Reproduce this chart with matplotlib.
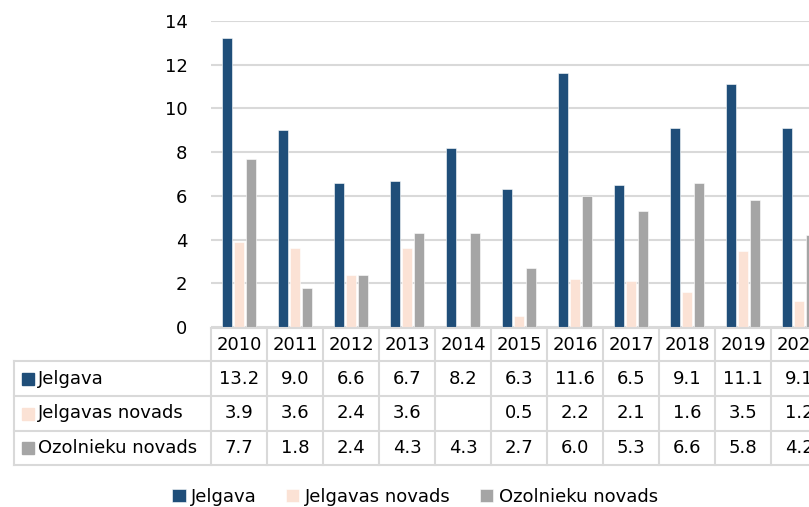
import numpy as np
import matplotlib.pyplot as plt
import matplotlib.transforms as mtransforms

# dati
years = ['2010', '2011', '2012', '2013', '2014', '2015', '2016', '2017', '2018', '2019', '2020']
jelgava = [13.2, 9.0, 6.6, 6.7, 8.2, 6.3, 11.6, 6.5, 9.1, 11.1, 9.1]
jelgavas_novads = [3.9, 3.6, 2.4, 3.6, np.nan, 0.5, 2.2, 2.1, 1.6, 3.5, 1.2]
ozolnieku_novads = [7.7, 1.8, 2.4, 4.3, 4.3, 2.7, 6.0, 5.3, 6.6, 5.8, 4.2]

series_names = ['Jelgava', 'Jelgavas novads', 'Ozolnieku novads']
series_values = [jelgava, jelgavas_novads, ozolnieku_novads]
colors = ['#1F4E79', '#FBE2D5', '#A5A5A5']

plt.rcParams['font.family'] = 'DejaVu Sans'
W, H = 809, 507
fig = plt.figure(figsize=(W / 100, H / 100), dpi=100)

def fx(px):
    return px / W

def fy(py):
    return 1 - py / H

# axes runs past the right edge, as in the cropped reference
ax_left, ax_right, ax_top, ax_bot = 211, 827, 21, 327
ax = fig.add_axes([fx(ax_left), fy(ax_bot), fx(ax_right - ax_left), (ax_bot - ax_top) / H])

x = np.arange(len(years))
offsets = [-0.22, 0, 0.22]
for name, vals, off, c in zip(series_names, series_values, offsets, colors):
    ax.bar(x + off, vals, width=0.18, color=c, edgecolor='white', linewidth=0.4,
           label=name, zorder=3)

ax.set_xlim(-0.5, len(years) - 0.5)
ax.set_ylim(0, 14)
ax.set_yticks(range(0, 15, 2))
ax.yaxis.grid(True, color='#D9D9D9', linewidth=1.5, zorder=0)
ax.set_xticks([])
for s in ax.spines.values():
    s.set_visible(False)
ax.tick_params(axis='y', length=0, pad=17, labelsize=13)

# datu tabula
grid_c = '#D9D9D9'
lw = 1.5
trans = mtransforms.blended_transform_factory(ax.transData, fig.transFigure)
row_y = [328, 361, 396, 431, 465]
tab_left = 14

# horizontal lines
fig.add_artist(plt.Line2D([fx(ax_left), fx(ax_right)], [fy(row_y[0])] * 2, color=grid_c, lw=lw))
for yy in row_y[1:]:
    fig.add_artist(plt.Line2D([fx(tab_left), fx(ax_right)], [fy(yy)] * 2, color=grid_c, lw=lw))
# vertical lines
fig.add_artist(plt.Line2D([fx(tab_left)] * 2, [fy(row_y[1]), fy(row_y[-1])], color=grid_c, lw=lw))
for i in range(len(years) + 1):
    xv = i - 0.5
    fig.add_artist(plt.Line2D([xv, xv], [fy(row_y[0]), fy(row_y[-1])], color=grid_c, lw=lw,
                              transform=trans))

for i, yr in enumerate(years):
    fig.text(i, fy((row_y[0] + row_y[1]) / 2), yr, transform=trans, ha='center', va='center',
             fontsize=13, clip_on=False)

for r, (name, vals, c) in enumerate(zip(series_names, series_values, colors)):
    yc = fy((row_y[r + 1] + row_y[r + 2]) / 2)
    fig.add_artist(plt.Rectangle((fx(22), yc - 6 / H), 12 / W, 12 / H, color=c,
                                 transform=fig.transFigure))
    fig.text(fx(38), yc, name, ha='left', va='center', fontsize=13)
    for i, v in enumerate(vals):
        if not np.isnan(v):
            fig.text(i, yc, f'{v:.1f}', transform=trans, ha='center', va='center', fontsize=13)

fig.legend(loc='center', bbox_to_anchor=(fx(415), fy(497)), ncol=3, frameon=False,
           fontsize=13, handlelength=0.75, handleheight=0.75, handletextpad=0.3,
           columnspacing=1.6)

fig.savefig('out.png', dpi=100)
